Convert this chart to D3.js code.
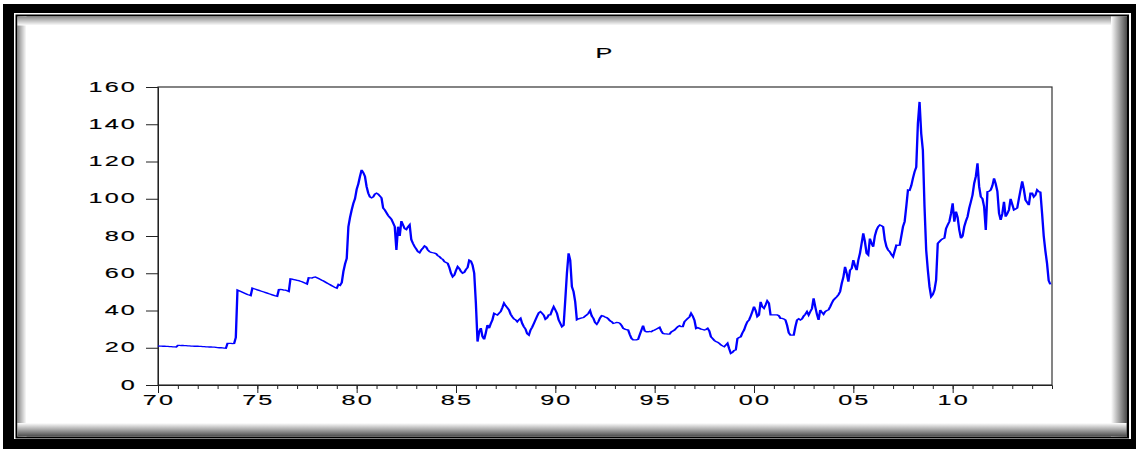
<!DOCTYPE html>
<html><head><meta charset="utf-8">
<script src="https://cdn.jsdelivr.net/npm/d3@7/dist/d3.min.js"></script>
<style>body{margin:0;background:#fff}svg{display:block}</style>
</head><body><svg id="c" width="1136" height="449"></svg>
<script>
// ---- data: monthly P, Jan 1970 .. Dec 2014 ----
const startYear = 1970;
const p1970 = [21.0,20.9,20.9,20.8,20.8,20.7,20.7,20.6,20.6,20.5,20.5,20.4];
const p1971 = [21.3,21.3,21.2,21.2,21.1,21.1,21.0,21.0,20.9,20.9,20.8,20.8];
const p1972 = [20.8,20.7,20.7,20.6,20.6,20.5,20.5,20.4,20.4,20.3,20.3,20.2];
const p1973 = [20.1,20.0,20.0,19.9,19.8,19.7,22.4,22.4,22.3,22.2,22.3,25.5];
const p1974 = [51.0,50.6,50.2,49.8,49.4,49.0,48.6,48.3,48.0,52.0,51.7,51.4];
const p1975 = [51.1,50.8,50.5,50.2,49.9,49.6,49.3,49.0,48.7,48.4,48.1,47.8];
const p1976 = [47.6,51.2,51.3,51.2,51.0,50.9,50.6,50.2,57.0,56.8,56.6,56.4];
const p1977 = [56.2,56.0,55.7,55.4,55.0,54.6,54.2,57.6,57.5,57.4,57.8,58.0];
const p1978 = [57.6,57.2,56.7,56.2,55.8,55.3,54.8,54.3,53.8,53.3,52.8,52.3];
const p1979 = [52.0,54.0,53.5,55.0,61.0,65.0,68.0,85.0,90.0,94.0,97.5,100.0];
const p1980 = [105,108,112,115.5,114,112,106.5,103,101,100.5,101,102.5];
const p1981 = [103,102.5,101.5,100.5,95,94,92.5,91,90,89,87,85];
const p1982 = [72.5,85,80,88,86,84,83.5,85,86,78,76,74.3];
const p1983 = [73,71.6,71,72.5,73.5,74.6,74,72.5,71.6,71.2,71,70.8];
const p1984 = [70.5,69.5,68.9,68,67.5,66.2,65.8,65.3,63,60,58.1,59];
const p1985 = [61.5,63.5,62.5,61,60,60.5,62,63,67,66.5,64.4,60];
const p1986 = [44,23.3,28.6,30.5,26,24.5,28,32.2,30.5,33,35,38.5];
const p1987 = [38,37.6,38.5,39.4,41.5,43.9,42.5,41.5,40.3,38,36.7,35.5];
const p1988 = [35,34,35,35.8,33,31.3,30,27.5,26.8,29.5,31,33];
const p1989 = [35,37,38.8,39.4,38.5,37.5,35.3,36,37.6,37.6,40,42];
const p1990 = [40.3,38.5,35,33.1,31.3,32,45.6,60,70.7,67,52.8,50.1];
const p1991 = [44.7,35,35.5,35.8,36,36.2,37,37.6,38.5,39.9,37,35.8];
const p1992 = [33.5,32.6,34,36,37.2,37,36.5,36.2,35.5,34.5,34,33.1];
const p1993 = [33.3,33.6,33.5,33.1,32,30.4,30,29.7,29.5,27,25,24.2];
const p1994 = [24.2,24.2,24.5,27,29.5,31.9,29,28.6,28.6,28.8,28.6,29.2];
const p1995 = [29.5,30,30.5,31,29,27.7,27.5,27.5,27.3,27.3,28.5,29];
const p1996 = [29.5,30.5,31.3,31.8,31.3,31.3,34,34.9,35.8,36.5,38.5,37];
const p1997 = [34.9,30.4,30.8,30.4,30,29.8,29.5,29.8,30.4,29,25.9,25];
const p1998 = [24,23.3,23,22.4,21.5,21,20.6,21.5,22.4,19.5,17,17.5];
const p1999 = [18.5,18.8,25,25.5,25.9,28,29.5,32,34,34.9,37,39.4];
const p2000 = [42.1,40,36.7,37.5,44.7,42,41.2,43,45.2,44,37.6,37.6];
const p2001 = [37.6,37.6,37.6,37.2,35.8,35.8,35.5,34.9,32,28,26.8,26.8];
const p2002 = [26.8,31.3,34.9,35.5,34.9,35.5,37,38,39.4,37.6,39.4,41];
const p2003 = [46.5,42,38,34.9,40.3,39,38,39.4,40,40.3,42,44];
const p2004 = [45.6,46.5,47.4,48.5,50.1,54.6,58,63.5,60,55.5,61.7,62.5];
const p2005 = [67.1,64,61.7,67,70.7,76,81.4,77,70.7,69.8,78.6,76];
const p2006 = [74.2,80,83.2,85,85.9,85.5,85,78,74.3,72.5,71.6,70];
const p2007 = [68.9,72,75.1,75,75.1,80,85,87.7,96,104.7,104.5,107];
const p2008 = [111,114.5,117,140.5,152,135,126,95.7,72.5,61.7,52.8,47.4];
const p2009 = [48.5,51,56.4,76,77,77.9,78.5,78.8,84,86,87.7,92];
const p2010 = [97.5,87.7,93.1,90,83.2,78.8,80,85,88,90.4,95,98.4];
const p2011 = [102,108.3,112,119,106.5,101,100,95.7,83.2,103.8,104,104.7];
const p2012 = [107,111,108,104,92.2,88.6,92,98.4,90.4,92,94,100];
const p2013 = [97,94,94.5,95,100,104.7,109.4,105,99.3,98,96.6,103];
const p2014 = [103,101,102,104.7,103.8,103.5,92.2,80,72,65.3,56,54];

const yTicks = [0,20,40,60,80,100,120,140,160];
const xMajorYears = [1970,1975,1980,1985,1990,1995,2000,2005,2010];
const xLabels = ["70","75","80","85","90","95","00","05","10"];
const title = "P";

const values = [].concat(p1970,p1971,p1972,p1973,p1974,p1975,p1976,p1977,p1978,p1979,
  p1980,p1981,p1982,p1983,p1984,p1985,p1986,p1987,p1988,p1989,
  p1990,p1991,p1992,p1993,p1994,p1995,p1996,p1997,p1998,p1999,
  p2000,p2001,p2002,p2003,p2004,p2005,p2006,p2007,p2008,p2009,
  p2010,p2011,p2012,p2013,p2014);
const series = values.map((v,i)=>({t: startYear + i/12, v}));

// ---- layout ----
const W = 1136, H = 449;
const L = 158, R = 1052, T = 87, B = 385;
const SX = 1.8; // horizontal stretch of the original picture
const svg = d3.select("#c");
const defs = svg.append("defs");
function grad(id, x1,y1,x2,y2, c1, c2){
  const g = defs.append("linearGradient").attr("id",id)
    .attr("x1",x1).attr("y1",y1).attr("x2",x2).attr("y2",y2);
  g.append("stop").attr("offset","0%").attr("stop-color",c1);
  g.append("stop").attr("offset","100%").attr("stop-color",c2);
}
grad("gl","0%","0%","100%","0%","#8a8a8a","#ffffff");
grad("gt","0%","0%","0%","100%","#8a8a8a","#ffffff");
grad("gr","0%","0%","100%","0%","#ffffff","#4a4a4a");
grad("gb","0%","0%","0%","100%","#ffffff","#4a4a4a");

// frame
svg.append("rect").attr("x",0).attr("y",0).attr("width",W).attr("height",H).attr("fill","#fff");
svg.append("rect").attr("x",3).attr("y",4).attr("width",W-3).attr("height",H-4).attr("fill","#000");
svg.append("rect").attr("x",14).attr("y",13).attr("width",1131-14).attr("height",439-13).attr("fill","#fff");
svg.append("rect").attr("x",16.5).attr("y",15.5).attr("width",1128-16.5).attr("height",437.5-15.5)
  .attr("fill","#fff").attr("stroke","#000").attr("stroke-width",2);
svg.append("rect").attr("x",17.5).attr("y",16.5).attr("width",9).attr("height",420).attr("fill","url(#gl)");
svg.append("rect").attr("x",17.5).attr("y",16.5).attr("width",1109).attr("height",9).attr("fill","url(#gt)");
svg.append("rect").attr("x",1111).attr("y",16.5).attr("width",16).attr("height",420).attr("fill","url(#gr)");
svg.append("rect").attr("x",17.5).attr("y",423).attr("width",1109).attr("height",13.5).attr("fill","url(#gb)");

// scales
const x = d3.scaleLinear().domain([1970, 2015]).range([L, R]);
const y = d3.scaleLinear().domain([0, 160]).range([B, T]);

const FONT = "Arial, 'Liberation Sans', sans-serif";
function stretchedText(gx, gy, txt, anchor){
  svg.append("g").attr("transform",`translate(${gx},${gy})`)
    .append("text").attr("transform",`scale(${SX},1)`)
    .attr("text-anchor",anchor).attr("font-family",FONT).attr("font-size",14)
    .attr("letter-spacing","1.2px").attr("fill","#000")
    .attr("stroke","#000").attr("stroke-width",0.15).text(txt);
}

// plot box
svg.append("rect").attr("x",L).attr("y",T).attr("width",R-L).attr("height",B-T)
  .attr("fill","#fff").attr("stroke","#333").attr("stroke-width",1.2);

// y axis
const yAxis = d3.axisLeft(y).tickValues(yTicks).tickSize(12).tickFormat("");
const gy = svg.append("g").attr("transform",`translate(${L},0)`).call(yAxis);
gy.select(".domain").attr("stroke","#222");
gy.selectAll(".tick line").attr("stroke","#222");
yTicks.forEach(v => stretchedText(137, y(v)+4.5, String(v), "end"));

// x axis: minor yearly ticks + major 5-year ticks
const minorYears = d3.range(1970, 2015);
const xMinor = d3.axisBottom(x).tickValues(minorYears).tickSize(4).tickFormat("");
const gxm = svg.append("g").attr("transform",`translate(0,${B})`).call(xMinor);
gxm.select(".domain").attr("stroke","#222");
gxm.selectAll(".tick line").attr("stroke","#222");
const xMajor = d3.axisBottom(x).tickValues(xMajorYears).tickSize(8).tickFormat("");
const gxM = svg.append("g").attr("transform",`translate(0,${B})`).call(xMajor);
gxM.select(".domain").remove();
gxM.selectAll(".tick line").attr("stroke","#222");
xMajorYears.forEach((yr,i) => stretchedText(x(yr)+1, 405, xLabels[i], "middle"));

// title
stretchedText((L+R)/2, 58, title, "middle");

// line: drawn in a horizontally compressed space, then stretched, so vertical
// strokes come out wider than horizontal ones like in the stretched original
const line = d3.line().x(d=>x(d.t)/SX).y(d=>y(d.v));
svg.append("g").attr("transform",`scale(${SX},1)`)
  .append("path").datum(series).attr("d",line)
  .attr("fill","none").attr("stroke","#0000ff").attr("stroke-width",1.3)
  .attr("stroke-linejoin","miter");
</script></body></html>
